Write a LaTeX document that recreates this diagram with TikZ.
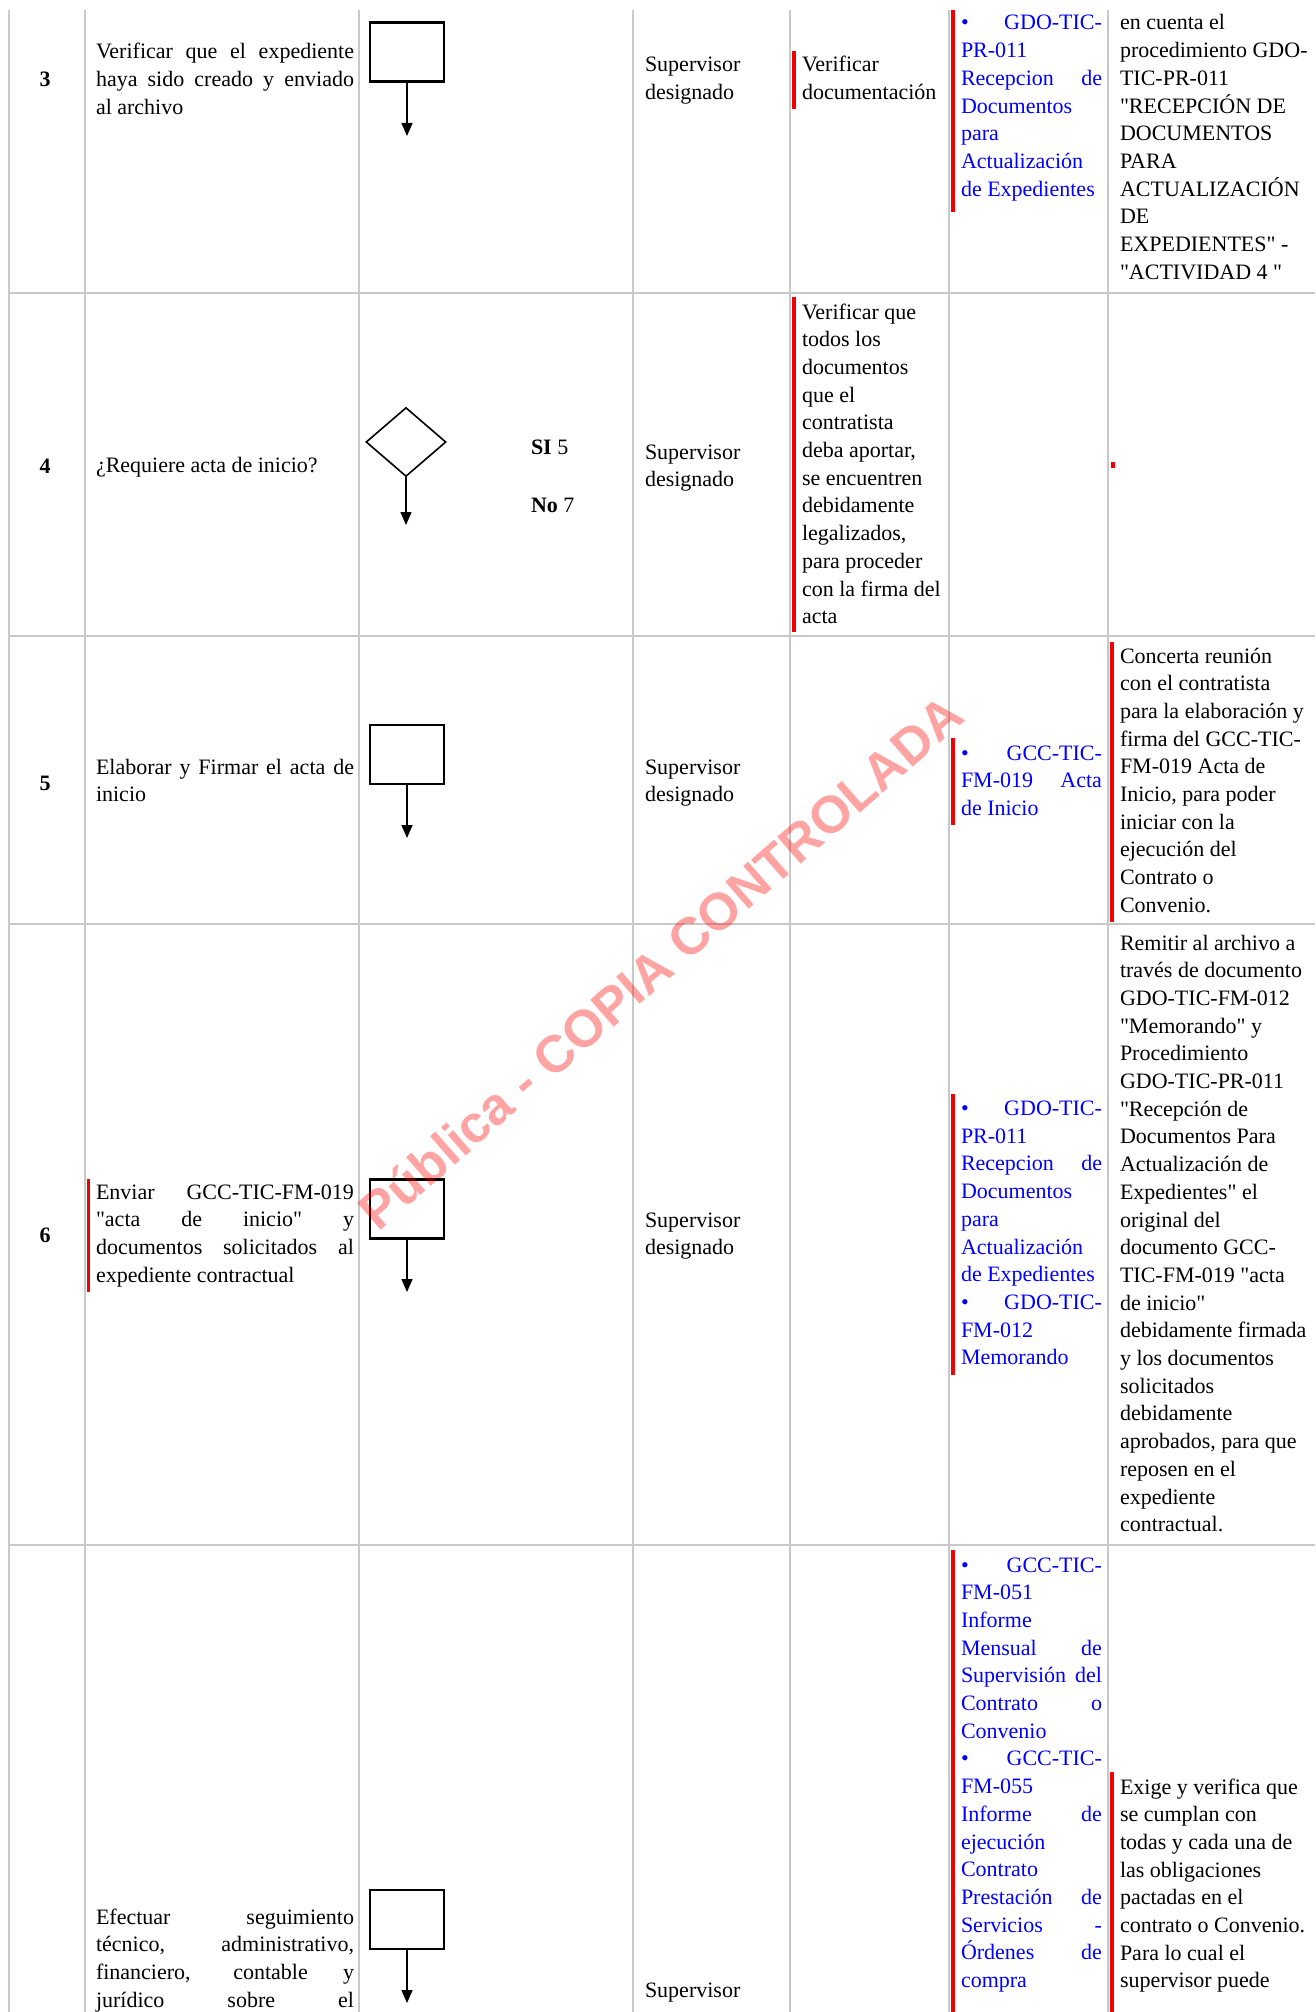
\documentclass[tikz,border=0pt]{standalone}
\usepackage{fontspec}
\setmainfont{Liberation Serif}[Ligatures=TeXOff]
\newfontfamily\wmfont{Liberation Sans}[Ligatures=TeXOff]
\usetikzlibrary{arrows.meta,shapes.geometric}
\definecolor{gridgray}{RGB}{200,200,200}
\definecolor{docblue}{RGB}{0,0,255}
\definecolor{barred}{RGB}{240,0,0}
\newcommand\justline[2]{\makebox[#1][s]{#2}}
\newcommand\cellrows[5]{\foreach \myline [count=\myi] in {#5} {\node[#2, anchor=base west] (#1-\myi) at (#3, {#4+(\myi-1)*27.7}) {\ignorespaces\myline\unskip};}}
\tikzset{
  gridline/.style={draw=gridgray, line width=2pt},
  txt/.style={inner sep=0pt, outer sep=0pt, font=\fontsize{22}{27.7}\selectfont, text=black},
  bluetxt/.style={txt, text=docblue},
  numtxt/.style={inner sep=0pt, font=\fontsize{22}{27.7}\selectfont\bfseries},
  procbox/.style={draw, line width=2.5pt, minimum width=74pt, minimum height=59pt, inner sep=0pt},
  decbox/.style={draw, diamond, line width=1.6pt, minimum width=80pt, minimum height=69pt, inner sep=0pt},
  flowarrow/.style={-{Triangle[length=13pt,width=11pt]}, line width=1.5pt},
  redbar/.style={draw=barred, line width=3.5pt},
  wm/.style={inner sep=0pt, font=\wmfont\bfseries\fontsize{52}{60}\selectfont, text=red, text opacity=0.36},
}
\begin{document}
\begin{tikzpicture}[x=1pt, y=-1pt]
\useasboundingbox (0,0) rectangle (1315,2012);
\fill[white] (0,0) rectangle (1315,2012);
% grid
\foreach \gx in {9,85,359,633,790,949,1108} {\draw[gridline] (\gx,10) -- (\gx,2012);}
\foreach \gy in {293,636,924,1545} {\draw[gridline] (9,\gy) -- (1315,\gy);}

% ===== Row 3 =====
\node[numtxt, anchor=base] (n3) at (45,87) {3};
\cellrows{r3c2}{txt}{96}{59}{{\justline{258pt}{Verificar que el expediente}}, {\justline{258pt}{haya sido creado y enviado}}, al archivo}
\node[procbox] (b3) at (407,52) {};
\coordinate (a3) at (407,136);
\draw[flowarrow] (b3.south) -- (a3);
\cellrows{r3c4}{txt}{645}{72}{Supervisor, designado}
\draw[redbar] (794,51) -- (794,109);
\cellrows{r3c5}{txt}{802}{72}{Verificar, documentación}
\draw[redbar] (953,10) -- (953,212);
\cellrows{r3c6}{bluetxt}{961}{30}{{\justline{141pt}{•\hfill GDO-TIC-}}, PR-011, {\justline{141pt}{Recepcion de}}, Documentos, para, Actualización, de Expedientes}
\cellrows{r3c7}{txt}{1120}{30}{en cuenta el, procedimiento GDO-, TIC-PR-011, "RECEPCIÓN DE, DOCUMENTOS, PARA, ACTUALIZACIÓN, DE, EXPEDIENTES" -, "ACTIVIDAD 4 "}

% ===== Row 4 =====
\node[numtxt, anchor=base] (n4) at (45,473) {4};
\node[txt, anchor=base west] (r4c2) at (96,472) {¿Requiere acta de inicio?};
\node[decbox] (d4) at (406,442) {};
\coordinate (a4) at (406,525);
\draw[flowarrow] (d4.south) -- (a4);
\node[txt, anchor=base west] (si4) at (531,454) {\textbf{SI} 5};
\node[txt, anchor=base west] (no4) at (531,512) {\textbf{No} 7};
\cellrows{r4c4}{txt}{645}{459}{Supervisor, designado}
\draw[redbar] (794,297) -- (794,632);
\cellrows{r4c5}{txt}{802}{319}{Verificar que, todos los, documentos, que el, contratista, {deba aportar,}, se encuentren, debidamente, {legalizados,}, para proceder, con la firma del, acta}
\fill[barred] (1111,462) rectangle (1115,468);

% ===== Row 5 =====
\node[numtxt, anchor=base] (n5) at (45,790) {5};
\cellrows{r5c2}{txt}{96}{774}{{\justline{258pt}{Elaborar y Firmar el acta de}}, inicio}
\node[procbox] (b5) at (407,754.5) {};
\coordinate (a5) at (407,838);
\draw[flowarrow] (b5.south) -- (a5);
\cellrows{r5c4}{txt}{645}{774}{Supervisor, designado}
\draw[redbar] (953,738) -- (953,825);
\cellrows{r5c6}{bluetxt}{961}{760}{{\justline{141pt}{•\hfill GCC-TIC-}}, {\justline{141pt}{FM-019 Acta}}, de Inicio}
\draw[redbar] (1112,642) -- (1112,922);
\cellrows{r5c7}{txt}{1120}{663}{Concerta reunión, con el contratista, para la elaboración y, firma del GCC-TIC-, FM-019 Acta de, {Inicio, para poder}, iniciar con la, ejecución del, Contrato o, Convenio.}

% ===== Row 6 =====
\node[numtxt, anchor=base] (n6) at (45,1242) {6};
\draw[redbar] (88.5,1179) -- (88.5,1292);
\cellrows{r6c2}{txt}{96}{1199}{{\justline{258pt}{Enviar GCC-TIC-FM-019}}, {\justline{258pt}{"acta de inicio" y}}, {\justline{258pt}{documentos solicitados al}}, expediente contractual}
\node[procbox] (b6) at (407,1209) {};
\coordinate (a6) at (407,1292);
\draw[flowarrow] (b6.south) -- (a6);
\cellrows{r6c4}{txt}{645}{1227}{Supervisor, designado}
\draw[redbar] (953,1094) -- (953,1375);
\cellrows{r6c6}{bluetxt}{961}{1115.5}{{\justline{141pt}{•\hfill GDO-TIC-}}, PR-011, {\justline{141pt}{Recepcion de}}, Documentos, para, Actualización, de Expedientes, {\justline{141pt}{•\hfill GDO-TIC-}}, FM-012, Memorando}
\cellrows{r6c7}{txt}{1120}{950}{Remitir al archivo a, través de documento, GDO-TIC-FM-012, "Memorando" y, Procedimiento, GDO-TIC-PR-011, "Recepción de, Documentos Para, Actualización de, Expedientes" el, original del, documento GCC-, TIC-FM-019 "acta, de inicio", debidamente firmada, y los documentos, solicitados, debidamente, {aprobados, para que}, reposen en el, expediente, contractual.}

% ===== Row 7 =====
\cellrows{r7c2}{txt}{96}{1924}{{\justline{258pt}{Efectuar seguimiento}}, {\justline{258pt}{técnico, administrativo,}}, {\justline{258pt}{financiero, contable y}}, {\justline{258pt}{jurídico sobre el}}}
\node[procbox] (b7) at (407,1919.5) {};
\coordinate (a7) at (407,2003);
\draw[flowarrow] (b7.south) -- (a7);
\node[txt, anchor=base west] (r7c4) at (645,1997) {Supervisor};
\draw[redbar] (953,1550) -- (953,2012);
\cellrows{r7c6}{bluetxt}{961}{1572}{{\justline{141pt}{•\hfill GCC-TIC-}}, FM-051, Informe, {\justline{141pt}{Mensual de}}, {\justline{141pt}{Supervisión del}}, {\justline{141pt}{Contrato o}}, Convenio, {\justline{141pt}{•\hfill GCC-TIC-}}, FM-055, {\justline{141pt}{Informe de}}, ejecución, Contrato, {\justline{141pt}{Prestación de}}, {\justline{141pt}{Servicios -}}, {\justline{141pt}{Órdenes de}}, compra}
\draw[redbar] (1112,1772) -- (1112,2012);
\cellrows{r7c7}{txt}{1120}{1794}{Exige y verifica que, se cumplan con, todas y cada una de, las obligaciones, pactadas en el, contrato o Convenio., Para lo cual el, supervisor puede}

% watermark
\node[wm, rotate=41] (wmark) at (660,962) {Pública - COPIA CONTROLADA};
\end{tikzpicture}
\end{document}
